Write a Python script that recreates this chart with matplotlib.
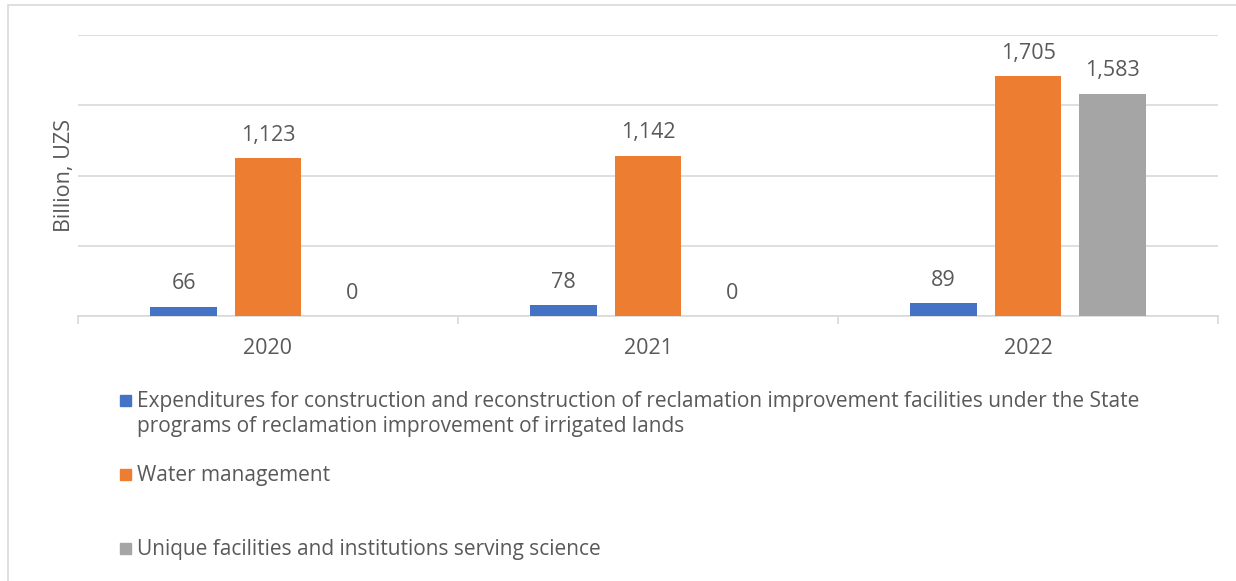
import numpy as np
import matplotlib.pyplot as plt
from matplotlib.patches import Rectangle

plt.rcParams['font.family'] = ['Open Sans', 'DejaVu Sans']

years = ['2020', '2021', '2022']
expenditures = [66, 78, 89]
water = [1123, 1142, 1705]
unique = [0, 0, 1583]
series_names = [
    'Expenditures for construction and reconstruction of reclamation improvement facilities under the State\nprograms of reclamation improvement of irrigated lands',
    'Water management',
    'Unique facilities and institutions serving science',
]
colors = ['#4472C4', '#ED7D31', '#A5A5A5']
text_col = '#595959'

fig = plt.figure(figsize=(12.36, 5.81), dpi=100)
ax = fig.add_axes([78 / 1236, 1 - 316 / 581, 1140 / 1236, 281 / 581])

x = np.arange(len(years))
offsets = [-0.222, 0, 0.222]
for vals, off, c in zip([expenditures, water, unique], offsets, colors):
    bars = ax.bar(x + off, vals, width=0.176, color=c, zorder=3)
    for b, v in zip(bars, vals):
        ax.annotate(f'{v:,}', (b.get_x() + b.get_width() / 2, v),
                    xytext=(0, 9), textcoords='offset points',
                    ha='center', va='bottom', fontsize=15.5, color=text_col)

ax.set_xlim(-0.5, 2.5)
ax.set_ylim(0, 2000)
ax.set_yticks([0, 500, 1000, 1500, 2000])
ax.yaxis.grid(True, color='#D9D9D9', linewidth=1.2, zorder=0)
ax.tick_params(axis='y', length=0, labelleft=False)
ax.set_xticks(x)
ax.set_xticklabels(years, fontsize=15.5, color=text_col)
ax.tick_params(axis='x', length=0, pad=16)
ax.set_xticks([-0.5, 0.5, 1.5, 2.5], minor=True)
ax.tick_params(axis='x', which='minor', length=6, color='#D9D9D9', width=1.2)
for s in ['top', 'right', 'left']:
    ax.spines[s].set_visible(False)
ax.spines['bottom'].set_color('#D9D9D9')
ax.spines['bottom'].set_linewidth(1.2)
ax.set_ylabel('Billion, UZS', fontsize=15.5, color=text_col, labelpad=2)

# manual legend
leg_y = [400, 474, 548]
for name, c, yy in zip(series_names, colors, leg_y):
    fig.patches.append(Rectangle((120 / 1236, 1 - (yy + 6) / 581), 11 / 1236, 11 / 581,
                                 transform=fig.transFigure, color=c))
    fig.text(137 / 1236, 1 - (yy - 9) / 581, name, fontsize=15, color=text_col,
             va='top', ha='left', linespacing=1.25)

# outer frame
fig.patches.append(Rectangle((8 / 1236, -0.01), 1.0, 1 - 5 / 581 + 0.01,
                             transform=fig.transFigure, fill=False,
                             edgecolor='#D9D9D9', linewidth=1.2))

fig.savefig('out.png', dpi=100)
